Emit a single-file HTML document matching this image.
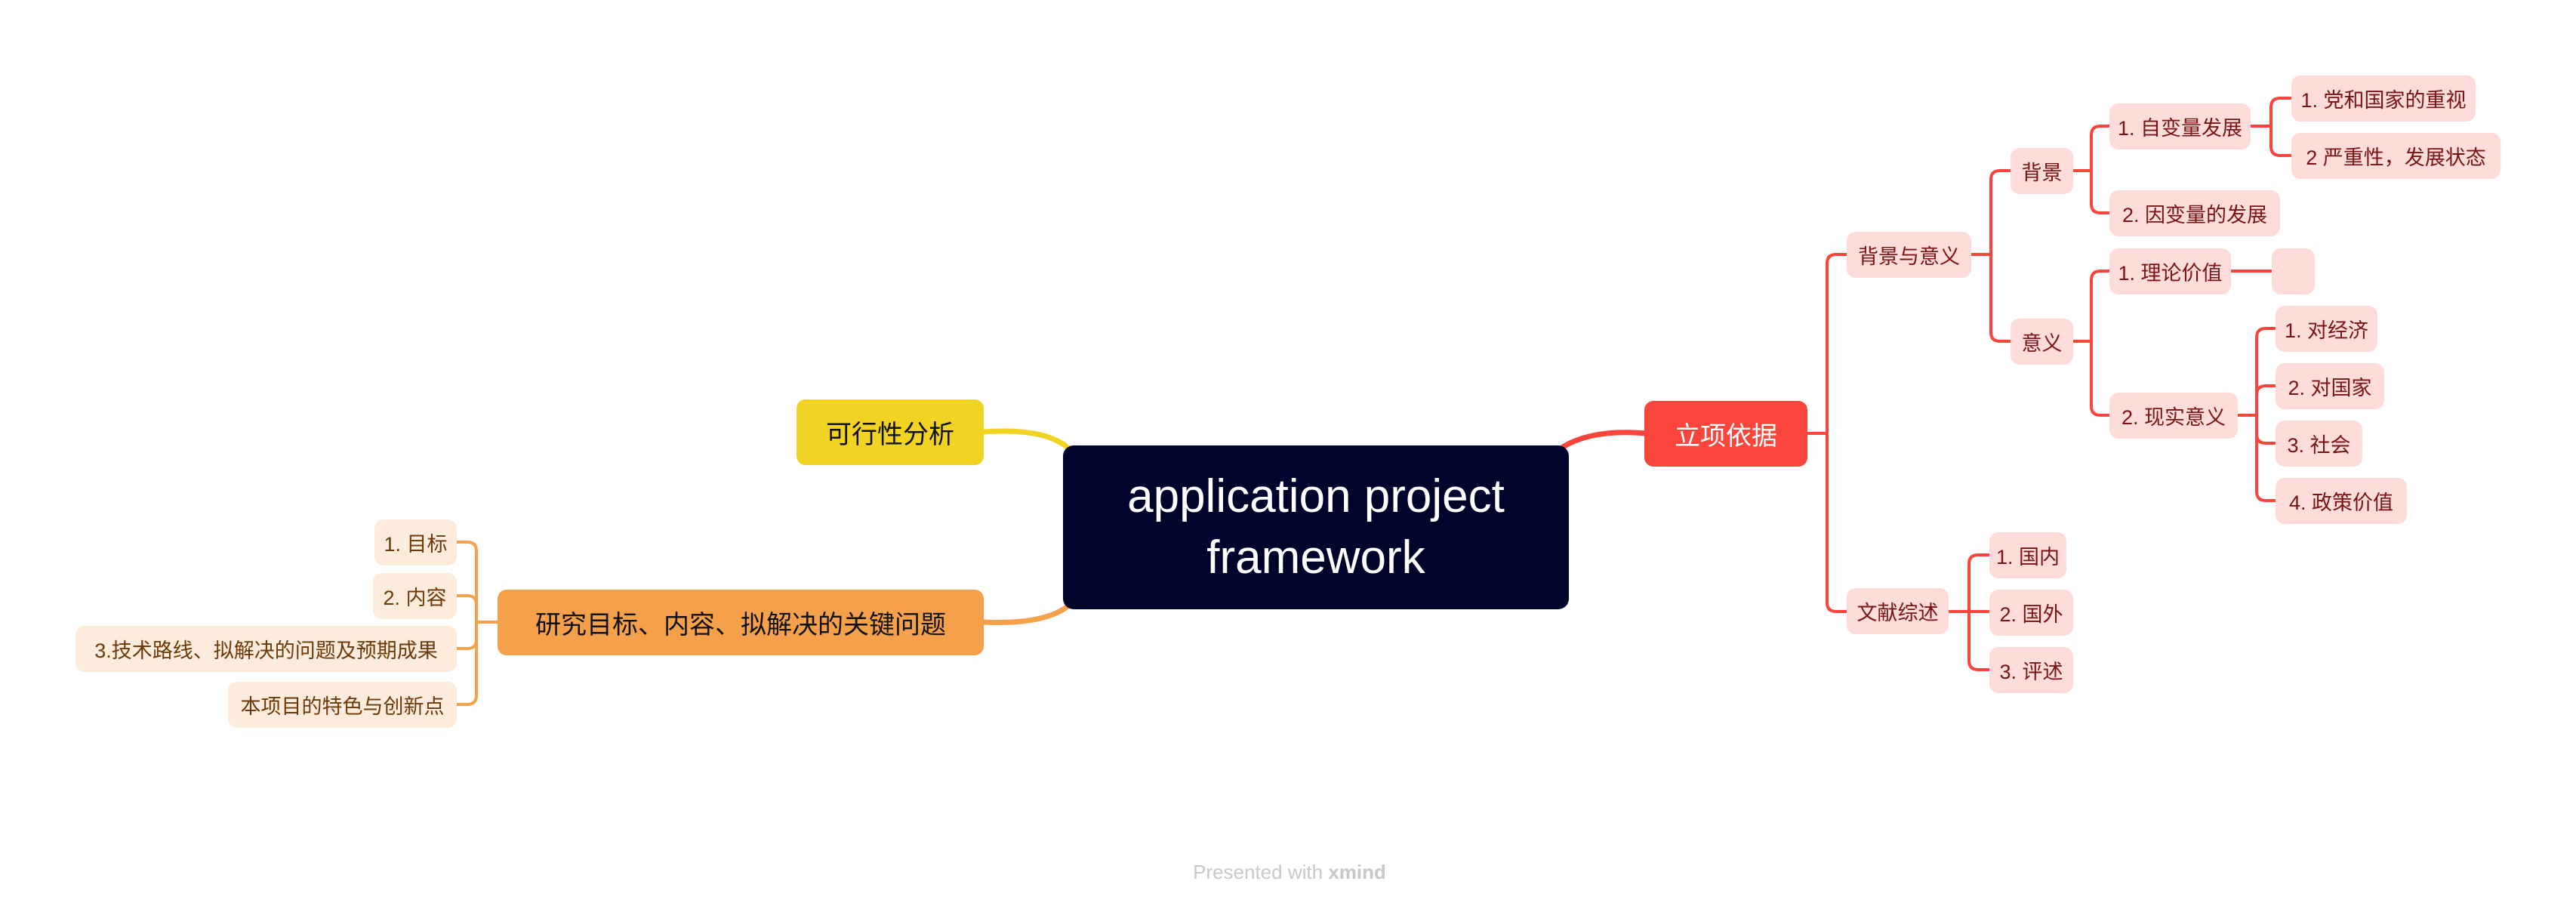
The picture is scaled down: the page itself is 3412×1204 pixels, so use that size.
<!DOCTYPE html>
<html><head><meta charset="utf-8"><style>
html,body{margin:0;padding:0;background:#fff;}
body{width:3412px;height:1204px;position:relative;overflow:hidden;font-family:"Liberation Sans","Noto Sans CJK SC",sans-serif;}
.n{position:absolute;display:flex;align-items:center;justify-content:center;border-radius:12px;box-sizing:border-box;white-space:nowrap;}
.r{background:#FDDCDA;color:#7a1414;font-size:27px;}
.o{background:#FDEBDC;color:#6b3a0a;font-size:27px;}
svg{position:absolute;left:0;top:0;}
</style></head><body>
<svg width="3412" height="1204" fill="none" stroke-linecap="round">
<g stroke="#F9453B" stroke-width="4">
<path d="M2070 592 Q2110 568 2180 574" stroke-width="7"/>
<path d="M2394 574 H2420 M2420 574 V349 Q2420 337 2432 337 H2446 M2420 574 V798 Q2420 810 2432 810 H2446"/>
<path d="M2611 337 H2637 M2637 337 V238 Q2637 226 2649 226 H2663 M2637 337 V440 Q2637 452 2649 452 H2663"/>
<path d="M2746 226 H2770 M2770 226 V179 Q2770 167 2782 167 H2794 M2770 226 V270 Q2770 282 2782 282 H2794"/>
<path d="M2746 452 H2770 M2770 452 V371 Q2770 359 2782 359 H2794 M2770 452 V538 Q2770 550 2782 550 H2794"/>
<path d="M2981 167 H3008 M3008 167 V142 Q3008 130 3020 130 H3035 M3008 167 V194 Q3008 206 3020 206 H3035"/>
<path d="M2955 359 H3009"/>
<path d="M2964 550 H2989 M2989 550 V447 Q2989 435 3001 435 H3014 M2989 550 V523 Q2989 511 3001 511 H3014 M2989 550 V575 Q2989 587 3001 587 H3014 M2989 550 V651 Q2989 663 3001 663 H3014"/>
<path d="M2581 810 H2608 M2608 810 V747 Q2608 735 2620 735 H2635 M2608 810 H2635 M2608 810 V875 Q2608 887 2620 887 H2635"/>
</g>
<path d="M1303 572 Q1390 566 1420 598" stroke="#F0D323" stroke-width="7"/>
<path d="M1303 824 Q1390 828 1420 798" stroke="#F5A04B" stroke-width="7"/>
<g stroke="#F5A04B" stroke-width="4">
<path d="M659 824 H631 M631 824 V730 Q631 718 619 718 H605 M631 824 V801 Q631 789 619 789 H605 M631 824 V847 Q631 859 619 859 H605 M631 824 V921 Q631 933 619 933 H605"/>
</g>
</svg>
<div class="n" style="left:1408px;top:590px;width:670px;height:217px;background:#00042a;color:#fff;font-size:62px;line-height:1.3;text-align:center;border-radius:14px;white-space:normal;padding:0 30px;">application project framework</div>
<div class="n" style="left:1055px;top:529px;width:248px;height:87px;background:#F0D323;color:#111;font-size:34px;">可行性分析</div>
<div class="n" style="left:659px;top:781px;width:644px;height:87px;background:#F5A04B;color:#111;font-size:34px;">研究目标、内容、拟解决的关键问题</div>
<div class="n o" style="left:496px;top:688px;width:109px;height:61px;">1. 目标</div>
<div class="n o" style="left:494px;top:759px;width:111px;height:61px;">2. 内容</div>
<div class="n o" style="left:100px;top:829px;width:505px;height:61px;">3.技术路线、拟解决的问题及预期成果</div>
<div class="n o" style="left:302px;top:903px;width:303px;height:61px;">本项目的特色与创新点</div>
<div class="n" style="left:2178px;top:531px;width:216px;height:87px;background:#F9453B;color:#fff;font-size:34px;">立项依据</div>
<div class="n r" style="left:2446px;top:307px;width:165px;height:61px;">背景与意义</div>
<div class="n r" style="left:2446px;top:779px;width:135px;height:61px;">文献综述</div>
<div class="n r" style="left:2663px;top:196px;width:83px;height:61px;">背景</div>
<div class="n r" style="left:2663px;top:422px;width:83px;height:61px;">意义</div>
<div class="n r" style="left:2794px;top:137px;width:187px;height:61px;">1. 自变量发展</div>
<div class="n r" style="left:2794px;top:252px;width:226px;height:61px;">2. 因变量的发展</div>
<div class="n r" style="left:2794px;top:329px;width:161px;height:61px;">1. 理论价值</div>
<div class="n r" style="left:3009px;top:329px;width:57px;height:61px;"></div>
<div class="n r" style="left:2794px;top:520px;width:170px;height:61px;">2. 现实意义</div>
<div class="n r" style="left:3035px;top:100px;width:244px;height:61px;">1. 党和国家的重视</div>
<div class="n r" style="left:3035px;top:176px;width:277px;height:61px;">2 严重性，发展状态</div>
<div class="n r" style="left:3014px;top:405px;width:135px;height:61px;">1. 对经济</div>
<div class="n r" style="left:3014px;top:481px;width:144px;height:61px;">2. 对国家</div>
<div class="n r" style="left:3014px;top:557px;width:115px;height:61px;">3. 社会</div>
<div class="n r" style="left:3014px;top:633px;width:174px;height:61px;">4. 政策价值</div>
<div class="n r" style="left:2635px;top:705px;width:102px;height:61px;">1. 国内</div>
<div class="n r" style="left:2635px;top:781px;width:111px;height:61px;">2. 国外</div>
<div class="n r" style="left:2635px;top:857px;width:111px;height:61px;">3. 评述</div>
<div style="position:absolute;left:1500px;top:1140px;width:416px;text-align:center;color:#c8c8c8;font-size:26px;">Presented with <b>xmind</b></div>
</body></html>
